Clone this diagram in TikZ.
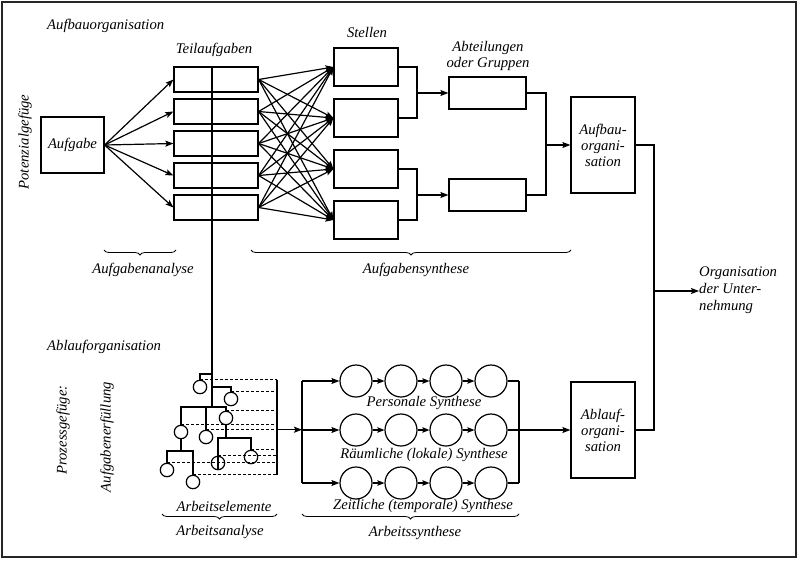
\documentclass[tikz,border=0pt]{standalone}
\usepackage{fontspec}
\setmainfont{Liberation Serif}
\usetikzlibrary{arrows.meta,decorations.pathreplacing,calc}
\begin{document}
\begin{tikzpicture}[x=1pt,y=-1pt,
  lw/.style={line width=1.2pt},
  box/.style={draw,line width=1.2pt,inner sep=0pt},
  lbl/.style={font=\fontsize{14.7}{16}\selectfont\itshape,inner sep=0pt},
  arr/.style={line width=1.2pt,-{Stealth[length=8pt,width=6pt,inset=1.5pt]}},
  sarr/.style={line width=1.2pt,-{Stealth[length=7pt,width=5.5pt,inset=1pt]}},
  brc/.style={decorate,decoration={brace,mirror,amplitude=5pt},line width=0.8pt},
  leaf/.style={circle,draw,line width=1.2pt,minimum size=13.4pt,inner sep=0pt},
  sc/.style={circle,draw,line width=1.2pt,minimum size=32pt,inner sep=0pt},
  dsh/.style={line width=1pt,dash pattern=on 3pt off 2pt}
]
\useasboundingbox (0,0) rectangle (798,560);
\draw[line width=1.5pt,black!85] (2,2) rectangle (796,557);

% ---------- Aufbauorganisation ----------
\node[lbl,anchor=west] (tAufbau) at (47,26) {Aufbauorganisation};
\node[lbl,rotate=90] (tPot) at (25,142) {Potenzialgefüge};
\node[lbl] (tTeil) at (214,50) {Teilaufgaben};
\node[lbl] (tStel) at (367,32) {Stellen};
\node[lbl,align=center] (tAbt) at (488,56) {Abteilungen\\oder Gruppen};

\node[box,minimum width=63pt,minimum height=56pt,lbl] (Aufg) at (72.5,145) {Aufgabe};
\foreach \i/\yy in {1/79.5,2/111.5,3/143.5,4/175.5,5/207.5}
  \node[box,minimum width=84pt,minimum height=25pt] (T\i) at (216,\yy) {};
\foreach \j/\yy in {1/67,2/118,3/169,4/220}
  \node[box,minimum width=64pt,minimum height=38pt] (S\j) at (366,\yy) {};
\node[box,minimum width=77pt,minimum height=32pt] (A1) at (487.5,93) {};
\node[box,minimum width=77pt,minimum height=32pt] (A2) at (487.5,195) {};
\node[box,minimum width=64pt,minimum height=96pt,lbl,align=center] (AB) at (603,145) {Aufbau-\\organi-\\sation};

\foreach \i in {1,...,5} \draw[arr] (Aufg.east) -- (T\i.west);
\foreach \i in {1,...,5} \foreach \j in {1,...,4} \draw[arr] (T\i.east) -- (S\j.west);

\coordinate (j1) at (417,93);
\coordinate (j2) at (417,195);
\coordinate (j3) at (546,145);
\draw[lw] (S1.east) -| (j1); \draw[lw] (S2.east) -| (j1);
\draw[arr] (j1) -- (A1.west);
\draw[lw] (S3.east) -| (j2); \draw[lw] (S4.east) -| (j2);
\draw[arr] (j2) -- (A2.west);
\draw[lw] (A1.east) -| (j3); \draw[lw] (A2.east) -| (j3);
\draw[arr] (j3) -- (AB.west);

% braces top
\coordinate (ba1) at (104,250); \coordinate (ba2) at (176,250);
\coordinate (bs1) at (251,250); \coordinate (bs2) at (571,250);
\draw[brc] (ba1) -- (ba2);
\draw[brc] (bs1) -- (bs2);
\node[lbl] (tAna) at (143,270) {Aufgabenanalyse};
\node[lbl] (tSyn) at (416,270) {Aufgabensynthese};

% ---------- Organisation der Unternehmung ----------
\node[box,minimum width=64pt,minimum height=96pt,lbl,align=center] (AL) at (603,430) {Ablauf-\\organi-\\sation};
\node[lbl,anchor=west,align=left,font=\fontsize{14.7}{17}\selectfont\itshape] (org) at (699,290) {Organisation\\der Unter-\\nehmung};
\coordinate (j4) at (654,291);
\draw[lw] (AB.east) -- (AB.east -| j4) -- (AL.east -| j4) -- (AL.east);
\draw[arr] (j4) -- (org.west |- j4);

% ---------- Ablauforganisation ----------
\node[lbl,anchor=west] (tAblauf) at (47,347) {Ablauforganisation};
\node[lbl,rotate=90] (tProz) at (63,430) {Prozessgefüge:};
\node[lbl,rotate=90] (tErf) at (107,437) {Aufgabenerfüllung};

% tree
\coordinate (tt) at (212,67);
\coordinate (tb) at (212,407);
\draw[lw] (tt) -- (tb);
\node[leaf] (c1) at (200,387) {};
\node[leaf] (c2) at (231,399) {};
\node[leaf] (c3) at (226,418) {};
\node[leaf] (c4) at (181,432) {};
\node[leaf] (c5) at (206,437) {};
\node[leaf] (c6) at (251,457) {};
\node[leaf] (c7) at (218,463) {};
\node[leaf] (c8) at (167,470) {};
\node[leaf] (c9) at (193,482) {};
\coordinate (b1) at (212,374);
\coordinate (b2) at (212,387);
\coordinate (bl) at (181,407); \coordinate (br) at (226,407);
\coordinate (b3l) at (218,438); \coordinate (b3r) at (251,438);
\coordinate (b4l) at (167,451); \coordinate (b4r) at (193,451);
\draw[lw] (b1) -| (c1.north);
\draw[lw] (b2) -| (c2.north);
\draw[lw] (c4.north) -- (bl) -- (br) -- (c3.north);
\draw[lw] (c5.north) -- (c5.north |- bl);
\draw[lw] (c3.south) -- (c3.south |- b3l);
\draw[lw] (c7.south) -- (b3l) -- (b3r) -- (c6.north);
\draw[lw] (c4.south) -- (c4.south |- b4l);
\draw[lw] (c8.north) -- (b4l) -- (b4r) -- (c9.north);
\coordinate (rt) at (277,380);
\foreach \c in {c1,c2,c3,c4,c5,c6,c7,c8,c9}
  \draw[dsh] (\c.north) -- (\c.north -| rt);
\draw[lw] (c1.north -| rt) -- (c9.north -| rt);

% synthesis
\foreach \r/\yy in {1/381,2/430,3/483}
  \foreach \i/\xx in {1/356,2/401,3/446,4/491}
    \node[sc] (s\r\i) at (\xx,\yy) {};
\coordinate (sl) at (302,381);
\coordinate (sr) at (519,381);
\draw[lw] (s11.west -| sl) -- (s31.west -| sl);
\draw[arr] (c5.north -| rt) -- (c5.north -| sl);
\foreach \r in {1,2,3} {
  \draw[arr] (s\r1.west -| sl) -- (s\r1.west);
  \draw[sarr] (s\r1) -- (s\r2);
  \draw[sarr] (s\r2) -- (s\r3);
  \draw[sarr] (s\r3) -- (s\r4);
  \draw[lw] (s\r4.east) -- (s\r4.east -| sr);
}
\draw[lw] (s14.east -| sr) -- (s34.east -| sr);
\draw[arr] (s24.east -| sr) -- (AL.west);

\node[lbl] (tPers) at (424,403) {Personale Synthese};
\node[lbl] (tRaum) at (424,455) {Räumliche (lokale) Synthese};
\node[lbl] (tZeit) at (423,506) {Zeitliche (temporale) Synthese};
\node[lbl] (tElem) at (224,506) {Arbeitselemente};

\coordinate (bb1) at (162,514); \coordinate (bb2) at (277,514);
\coordinate (bc1) at (302,514); \coordinate (bc2) at (519,514);
\draw[brc] (bb1) -- (bb2);
\draw[brc] (bc1) -- (bc2);
\node[lbl] (tAAna) at (220,532) {Arbeitsanalyse};
\node[lbl] (tASyn) at (415,533) {Arbeitssynthese};
\end{tikzpicture}
\end{document}
